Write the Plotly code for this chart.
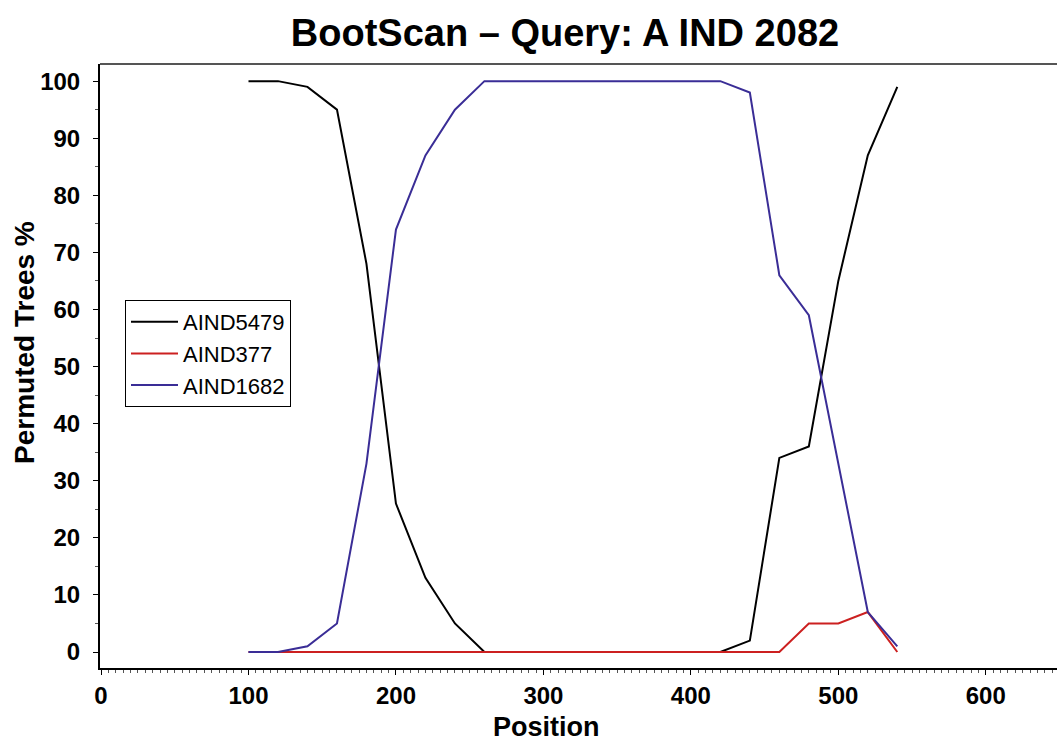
import plotly.graph_objects as go

positions = [100, 120, 140, 160, 180, 200, 220, 240, 260, 280, 300, 320, 340, 360,
             380, 400, 420, 440, 460, 480, 500, 520, 540]
aind5479 = [100, 100, 99, 95, 68, 26, 13, 5, 0, 0, 0, 0, 0, 0,
            0, 0, 0, 2, 34, 36, 65, 87, 99]
aind377 = [0, 0, 0, 0, 0, 0, 0, 0, 0, 0, 0, 0, 0, 0,
           0, 0, 0, 0, 0, 5, 5, 7, 0]
aind1682 = [0, 0, 1, 5, 33, 74, 87, 95, 100, 100, 100, 100, 100, 100,
            100, 100, 100, 98, 66, 59, 33, 7, 1]

series_names = ["AIND5479", "AIND377", "AIND1682"]
series_colors = ["#000000", "#cc2020", "#3a2d96"]
x_ticks = [0, 100, 200, 300, 400, 500, 600]
y_ticks = [0, 10, 20, 30, 40, 50, 60, 70, 80, 90, 100]

FONT = "Liberation Sans, Arial, sans-serif"

fig = go.Figure()
for name, vals, col in zip(series_names, [aind5479, aind377, aind1682], series_colors):
    fig.add_trace(go.Scatter(x=positions, y=vals, mode="lines", name=name,
                             line=dict(color=col, width=2)))

W, H = 1057, 742
ml, mr, mt, mb = 100, 0, 64, 74
pw = W - ml - mr
ph = H - mt - mb

fig.update_layout(
    width=W, height=H,
    margin=dict(l=ml, r=mr, t=mt, b=mb, pad=0, autoexpand=False),
    paper_bgcolor="white", plot_bgcolor="white",
    font=dict(family=FONT, color="black"),
    title=dict(text="BootScan – Query: A IND 2082", xref="container", x=565 / W,
               xanchor="center", yref="container", y=1 - 33 / H, yanchor="middle",
               font=dict(size=38, family=FONT, weight="bold", color="black"),
               automargin=False),
    showlegend=True,
    legend=dict(x=(125 - ml) / pw, y=(H - mb - 300) / ph, xanchor="left", yanchor="top",
                bordercolor="black", borderwidth=1, bgcolor="white",
                font=dict(size=22, family=FONT, color="black"),
                tracegroupgap=0, itemwidth=47),
    xaxis=dict(range=[-0.7, 648.3], tickvals=x_ticks, ticks="outside", ticklen=5,
               tickwidth=1, tickcolor="black", showgrid=False, zeroline=False,
               showline=True, linecolor="black", linewidth=2, mirror=False,
               automargin=False, ticklabelstandoff=0,
               tickfont=dict(size=24, family=FONT, weight="bold", color="black"),
               minor=dict(dtick=5, ticks="outside", ticklen=3, tickcolor="#555555", showgrid=False)),
    yaxis=dict(range=[-2.8, 103], tickvals=y_ticks, ticks="outside", ticklen=5,
               tickwidth=1, tickcolor="black", showgrid=False, zeroline=False,
               showline=True, linecolor="black", linewidth=2,
               automargin=False, ticklabelstandoff=8,
               tickfont=dict(size=24, family=FONT, weight="bold", color="black"),
               minor=dict(dtick=5, ticks="outside", ticklen=3, tickcolor="#555555", showgrid=False)),
)

# top frame line
fig.add_shape(type="line", xref="paper", yref="paper", x0=0, x1=1, y0=1, y1=1,
              line=dict(color="#555555", width=2))

fig.add_annotation(text="Position", xref="paper", yref="paper",
                   x=(546 - ml) / pw, y=(H - mb - 727) / ph, xanchor="center", yanchor="middle",
                   showarrow=False, font=dict(size=27, family=FONT, weight="bold", color="black"))
fig.add_annotation(text="Permuted Trees %", xref="paper", yref="paper", textangle=-90,
                   x=(24 - ml) / pw, y=(H - mb - 343) / ph, xanchor="center", yanchor="middle",
                   showarrow=False, font=dict(size=28, family=FONT, weight="bold", color="black"))

fig.write_html("out.html", config={"displayModeBar": False},
               post_script="document.body.style.margin='0px';document.body.style.overflow='hidden';")
